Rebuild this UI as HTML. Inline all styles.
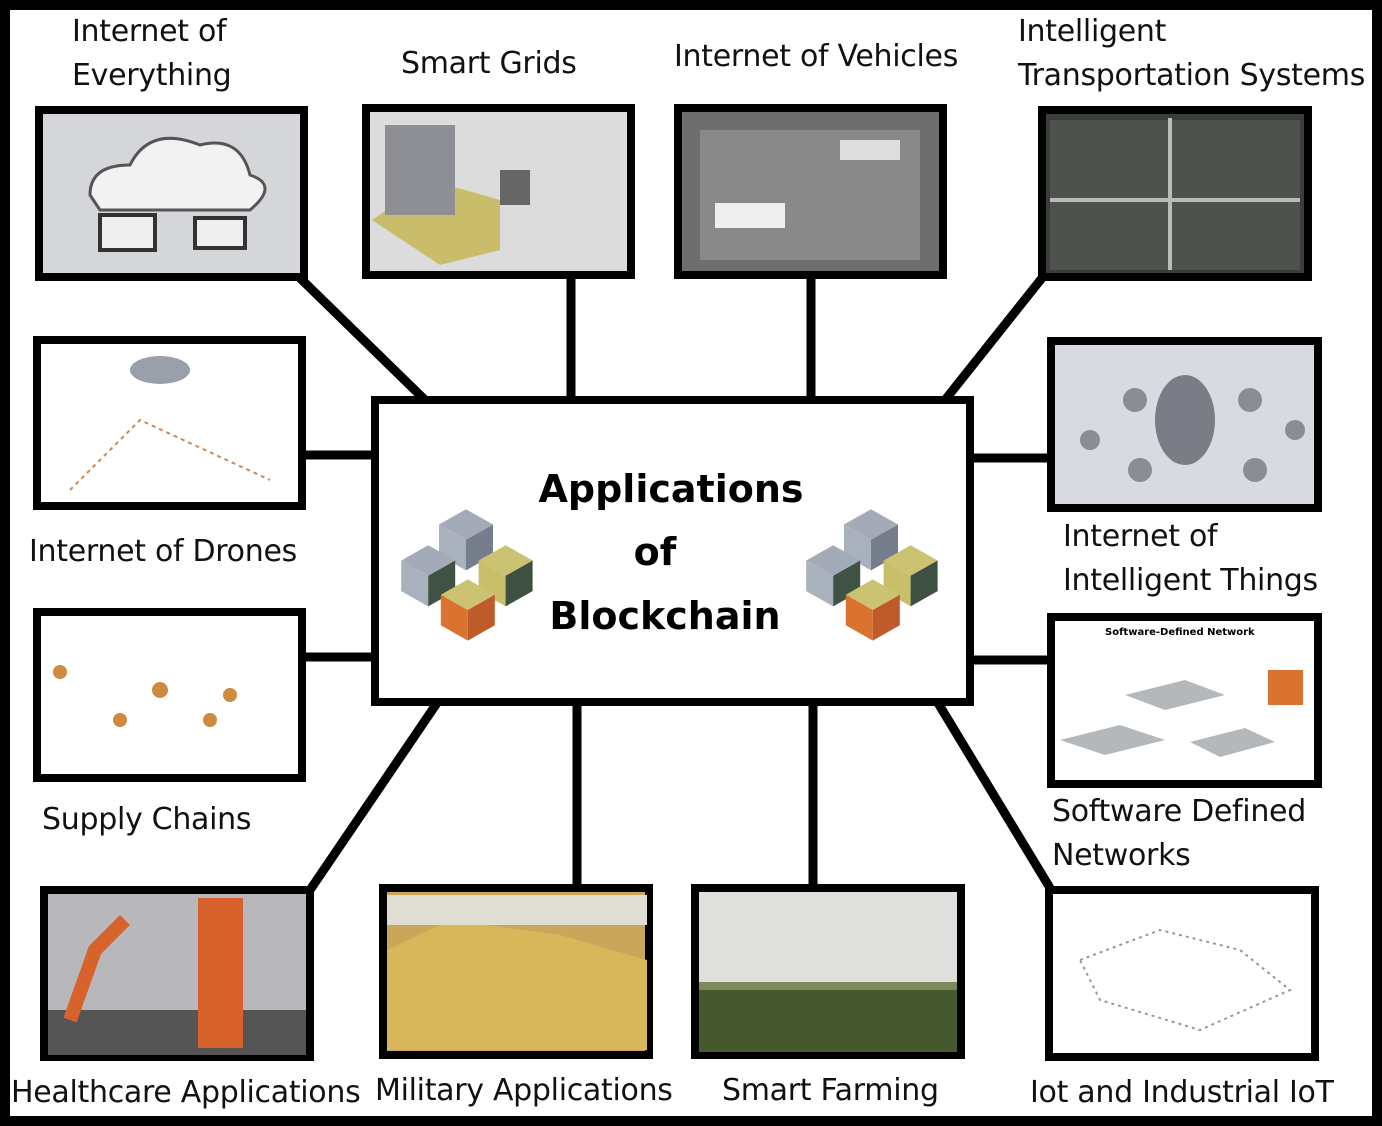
<!DOCTYPE html>
<html><head><meta charset="utf-8"><style>
body{margin:0;background:#000;}
.wrap{position:relative;width:1382px;height:1126px;background:#000;overflow:hidden;font-family:"DejaVu Sans","Liberation Sans",sans-serif;}
.inner{position:absolute;left:10px;top:10px;width:1362px;height:1106px;background:#fff;}
.lbl{position:absolute;font-size:30px;color:#111;line-height:44px;white-space:nowrap;letter-spacing:-0.3px;}
</style></head><body><div class="wrap"><div class="inner"></div>
<svg width="1382" height="1126" style="position:absolute;left:0;top:0">
<defs>
<g id="cubeG"><polygon points="-30,-17 0,-34 30,-17 0,0" fill="#a3abb8"/><polygon points="-30,-17 0,0 0,34 -30,17" fill="#a9b1bd"/><polygon points="0,0 30,-17 30,17 0,34" fill="#767d8c"/></g>
<g id="cubeGd"><polygon points="-30,-17 0,-34 30,-17 0,0" fill="#a3abb8"/><polygon points="-30,-17 0,0 0,34 -30,17" fill="#a9b1bd"/><polygon points="0,0 30,-17 30,17 0,34" fill="#3f5244"/></g>
<g id="cubeY"><polygon points="-30,-17 0,-34 30,-17 0,0" fill="#cbc272"/><polygon points="-30,-17 0,0 0,34 -30,17" fill="#c9bf6a"/><polygon points="0,0 30,-17 30,17 0,34" fill="#3d5042"/></g>
<g id="cubeO"><polygon points="-30,-17 0,-34 30,-17 0,0" fill="#cbc272"/><polygon points="-30,-17 0,0 0,34 -30,17" fill="#d9732f"/><polygon points="0,0 30,-17 30,17 0,34" fill="#bf5a2a"/></g>
<g id="cluster"><use href="#cubeG" x="0" y="-28" transform="scale(0.9)"/><use href="#cubeGd" x="-42" y="12" transform="scale(0.9)"/><use href="#cubeY" x="44" y="12" transform="scale(0.9)"/><use href="#cubeO" x="2" y="50" transform="scale(0.9)"/></g>
</defs>
<g stroke="#000" stroke-width="9" fill="none">
<line x1="300" y1="278" x2="425" y2="400"/>
<line x1="571" y1="279" x2="571" y2="400"/>
<line x1="811" y1="279" x2="811" y2="400"/>
<line x1="1042" y1="278" x2="945" y2="400"/>
<line x1="306" y1="455" x2="375" y2="455"/>
<line x1="970" y1="458" x2="1050" y2="458"/>
<line x1="306" y1="657" x2="375" y2="657"/>
<line x1="970" y1="660" x2="1050" y2="660"/>
<line x1="310" y1="890" x2="437" y2="703"/>
<line x1="577" y1="703" x2="577" y2="886"/>
<line x1="813" y1="703" x2="813" y2="886"/>
<line x1="938" y1="703" x2="1050" y2="888"/>
</g>
<rect x="375" y="400" width="595" height="302" fill="#fff" stroke="#000" stroke-width="8"/>
<g transform="translate(466,565)"><use href="#cluster"/></g>
<g transform="translate(871,565)"><use href="#cluster"/></g>
<g font-family="DejaVu Sans,Liberation Sans,sans-serif" font-weight="bold" font-size="38" text-anchor="middle" fill="#000">
<text x="671" y="502">Applications</text><text x="655" y="565">of</text><text x="665" y="629">Blockchain</text></g>
<g stroke="#000" stroke-width="8">
<rect x="39" y="110" width="265" height="167" fill="#d4d6da"/>
<rect x="366" y="108" width="265" height="167" fill="#dcdcdc"/>
<rect x="678" y="108" width="265" height="167" fill="#6e6e6e"/>
<rect x="1042" y="110" width="266" height="167" fill="#3a3d3a"/>
<rect x="37" y="340" width="265" height="166" fill="#fff"/>
<rect x="1051" y="341" width="267" height="167" fill="#d8dadf"/>
<rect x="37" y="612" width="265" height="166" fill="#fff"/>
<rect x="1051" y="617" width="267" height="167" fill="#fff"/>
<rect x="44" y="890" width="266" height="167" fill="#b8b8bc"/>
<rect x="383" y="888" width="266" height="167" fill="#c9a65a"/>
<rect x="695" y="888" width="266" height="167" fill="#7d8a5a"/>
<rect x="1049" y="890" width="266" height="167" fill="#fff"/>
</g>
<path d="M90 195 q0-30 40-30 q20-40 70-20 q40-10 50 30 q30 10 0 35 h-150z" fill="#f2f2f2" stroke="#555" stroke-width="3"/>
<rect x="100" y="215" width="55" height="35" fill="#eee" stroke="#333" stroke-width="4"/><rect x="195" y="218" width="50" height="30" fill="#eee" stroke="#333" stroke-width="4"/>
<polygon points="372,220 430,180 500,200 500,250 440,265" fill="#c9bd6c"/>
<rect x="385" y="125" width="70" height="90" fill="#8d8f94"/>
<rect x="500" y="170" width="30" height="35" fill="#666"/>
<rect x="700" y="130" width="220" height="130" fill="#898989"/>
<rect x="715" y="203" width="70" height="25" fill="#eee"/><rect x="840" y="140" width="60" height="20" fill="#ddd"/>
<rect x="1050" y="120" width="250" height="150" fill="#4d524d"/><line x1="1050" y1="200" x2="1300" y2="200" stroke="#bbb" stroke-width="4"/><line x1="1170" y1="118" x2="1170" y2="270" stroke="#bbb" stroke-width="4"/>
<ellipse cx="160" cy="370" rx="30" ry="14" fill="#9aa0aa"/><path d="M70 490 L140 420 L270 480" stroke="#c85" stroke-width="2" fill="none" stroke-dasharray="4 4"/>
<ellipse cx="1185" cy="420" rx="30" ry="45" fill="#7a7d85"/>
<g fill="#8a8d94"><circle cx="1135" cy="400" r="12"/><circle cx="1250" cy="400" r="12"/><circle cx="1140" cy="470" r="12"/><circle cx="1255" cy="470" r="12"/><circle cx="1090" cy="440" r="10"/><circle cx="1295" cy="430" r="10"/></g>
<g fill="#d08a40"><circle cx="60" cy="672" r="7"/><circle cx="160" cy="690" r="8"/><circle cx="120" cy="720" r="7"/><circle cx="210" cy="720" r="7"/><circle cx="230" cy="695" r="7"/></g>
<polygon points="1060,740 1120,725 1165,740 1105,755" fill="#b5b8bb"/><polygon points="1125,695 1185,680 1225,695 1165,710" fill="#b5b8bb"/><polygon points="1190,742 1245,728 1275,742 1220,757" fill="#b5b8bb"/><rect x="1268" y="670" width="35" height="35" fill="#d9732f"/>
<text x="1105" y="635" font-size="10" font-weight="bold" font-family="DejaVu Sans,sans-serif">Software-Defined Network</text>
<rect x="48" y="1010" width="258" height="45" fill="#555"/><rect x="198" y="898" width="45" height="150" fill="#d8622c"/><path d="M70 1020 L95 950 L125 920" stroke="#d8622c" stroke-width="14" fill="none"/>
<polygon points="387,950 450,920 560,935 647,960 647,1050 387,1050" fill="#d6b85a"/><rect x="387" y="895" width="260" height="30" fill="#e0ddd2"/>
<rect x="699" y="892" width="258" height="90" fill="#dfe0dd"/><rect x="699" y="990" width="258" height="62" fill="#46582e"/>
<g fill="none" stroke="#999" stroke-width="2" stroke-dasharray="3 4"><path d="M1080 960 L1160 930 L1240 950 L1290 990 L1200 1030 L1100 1000z"/></g>
</svg>
<div class="lbl" style="left:72px;top:10px">Internet of<br>Everything</div>
<div class="lbl" style="left:401px;top:42px">Smart Grids</div>
<div class="lbl" style="left:674px;top:35px">Internet of Vehicles</div>
<div class="lbl" style="left:1018px;top:10px">Intelligent<br>Transportation Systems</div>
<div class="lbl" style="left:29px;top:530px">Internet of Drones</div>
<div class="lbl" style="left:1063px;top:515px">Internet of<br>Intelligent Things</div>
<div class="lbl" style="left:42px;top:798px">Supply Chains</div>
<div class="lbl" style="left:1052px;top:790px">Software Defined<br>Networks</div>
<div class="lbl" style="left:11px;top:1071px">Healthcare Applications</div>
<div class="lbl" style="left:375px;top:1069px">Military Applications</div>
<div class="lbl" style="left:722px;top:1069px">Smart Farming</div>
<div class="lbl" style="left:1030px;top:1071px">Iot and Industrial IoT</div>
</div></body></html>
